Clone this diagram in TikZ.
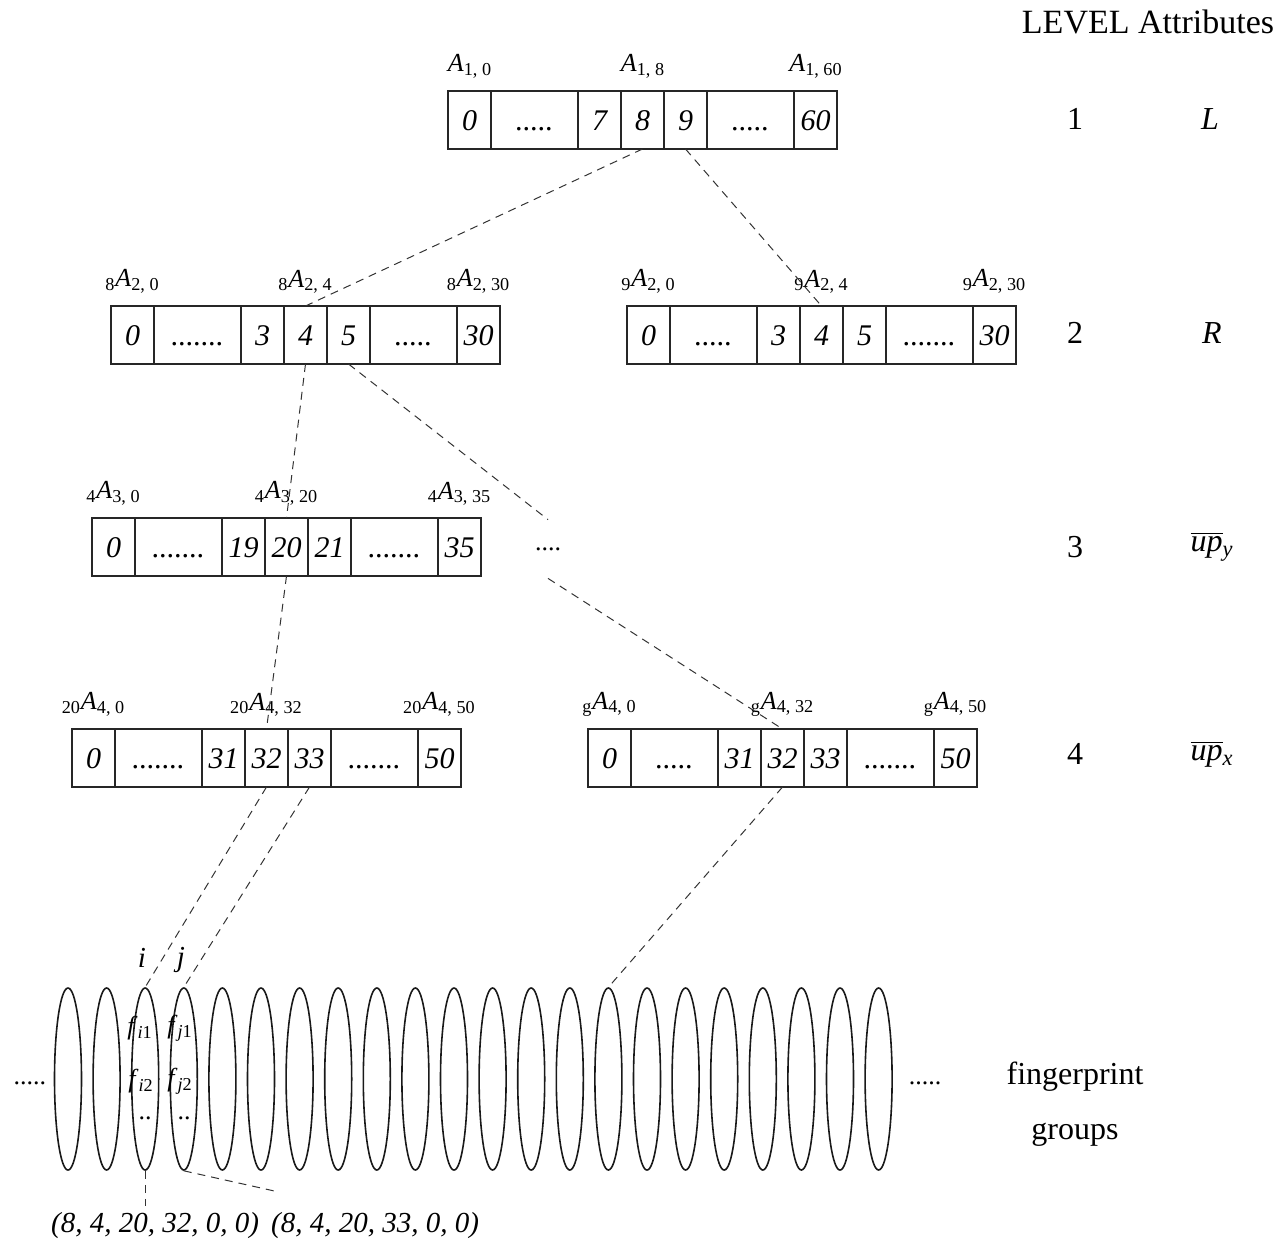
\documentclass[tikz,border=0pt]{standalone}
\usepackage{fontspec}
\setmainfont{Liberation Serif}
\usetikzlibrary{shapes.geometric, positioning}
\tikzset{
  cellbox/.style = {rectangle, draw=black!85, line width=0.6pt, minimum height=29pt,
                    inner sep=0pt, outer sep=0pt, text height=10pt, text depth=0pt,
                    font=\fontsize{15}{17}\selectfont\itshape},
  alab/.style    = {font=\fontsize{13}{15}\selectfont, inner sep=1pt},
  fgroup/.style  = {ellipse, draw=black!90, line width=0.8pt, minimum width=13.5pt,
                    minimum height=91pt, inner sep=0pt},
  link/.style    = {draw=black!80, dash pattern=on 4pt off 3pt, line width=0.5pt},
  coltxt/.style  = {font=\fontsize{16}{18}\selectfont},
  tuple/.style   = {font=\fontsize{14.5}{17}\selectfont\itshape},
  flab/.style    = {font=\fontsize{13}{15}\selectfont, inner sep=0pt},
  dotlab/.style  = {font=\fontsize{13}{15}\selectfont, inner sep=0pt, minimum height=29pt},
}
\newcommand{\Alab}[3]{\textsubscript{#1}\textit{A}\textsubscript{#2, #3}}
\newcommand{\dshort}{.....}
\newcommand{\dlong}{.......}
\newcommand{\cellrow}[4]{% name, left x, centre y, list of width/text
  \foreach \w/\txt [count=\i, remember=\i as \j (initially 0)] in {#4} {
    \ifnum\i=1\relax
      \node[cellbox, minimum width=\w, anchor=west] (#1-\i) at (#2,#3) {\txt};
    \else
      \node[cellbox, minimum width=\w, anchor=west] (#1-\i) at (#1-\j.east) {\txt};
    \fi
  }
}

\begin{document}
\begin{tikzpicture}[x=0.5pt, y=-0.5pt]
  \useasboundingbox (0,0) rectangle (1283,1242);

  % level 1
  \cellrow{l1}{448}{120}{21.5pt/0, 43.5pt/\dshort, 21.5pt/7, 21.5pt/8, 21.5pt/9, 43.5pt/\dshort, 21.5pt/60}
  \node[alab, above=5pt of l1-1] (a10)  {\Alab{}{1}{0}};
  \node[alab, above=5pt of l1-4] (a18)  {\Alab{}{1}{8}};
  \node[alab, above=5pt of l1-7] (a160) {\Alab{}{1}{60}};

  % level 2
  \cellrow{l2a}{111}{335}{21.5pt/0, 43.5pt/\dlong, 21.5pt/3, 21.5pt/4, 21.5pt/5, 43.5pt/\dshort, 21.5pt/30}
  \node[alab, above=5pt of l2a-1] (a820)  {\Alab{8}{2}{0}};
  \node[alab, above=5pt of l2a-4] (a824)  {\Alab{8}{2}{4}};
  \node[alab, above=5pt of l2a-7] (a8230) {\Alab{8}{2}{30}};
  \cellrow{l2b}{627}{335}{21.5pt/0, 43.5pt/\dshort, 21.5pt/3, 21.5pt/4, 21.5pt/5, 43.5pt/\dlong, 21.5pt/30}
  \node[alab, above=5pt of l2b-1] (a920)  {\Alab{9}{2}{0}};
  \node[alab, above=5pt of l2b-4] (a924)  {\Alab{9}{2}{4}};
  \node[alab, above=5pt of l2b-7] (a9230) {\Alab{9}{2}{30}};

  % level 3
  \cellrow{l3}{92}{547}{21.5pt/0, 43.5pt/\dlong, 21.5pt/19, 21.5pt/20, 21.5pt/21, 43.5pt/\dlong, 21.5pt/35}
  \node[alab, above=5pt of l3-1] (a430)  {\Alab{4}{3}{0}};
  \node[alab, above=5pt of l3-4] (a4320) {\Alab{4}{3}{20}};
  \node[alab, above=5pt of l3-7] (a4335) {\Alab{4}{3}{35}};
  \node[dotlab] (l3dots) at (548,549) {....};

  % level 4
  \cellrow{l4a}{72}{758}{21.5pt/0, 43.5pt/\dlong, 21.5pt/31, 21.5pt/32, 21.5pt/33, 43.5pt/\dlong, 21.5pt/50}
  \node[alab, above=5pt of l4a-1] (a2040)  {\Alab{20}{4}{0}};
  \node[alab, above=5pt of l4a-4] (a20432) {\Alab{20}{4}{32}};
  \node[alab, above=5pt of l4a-7] (a20450) {\Alab{20}{4}{50}};
  \cellrow{l4b}{588}{758}{21.5pt/0, 43.5pt/\dshort, 21.5pt/31, 21.5pt/32, 21.5pt/33, 43.5pt/\dlong, 21.5pt/50}
  \node[alab, above=5pt of l4b-1] (ag40)  {\Alab{g}{4}{0}};
  \node[alab, above=5pt of l4b-4] (ag432) {\Alab{g}{4}{32}};
  \node[alab, above=5pt of l4b-7] (ag450) {\Alab{g}{4}{50}};

  % fingerprint groups
  \foreach \k in {1,...,22}
    \node[fgroup] (g\k) at ({68+38.6*(\k-1)},1079) {};
  \node[dotlab] (ldots) at (30,1083) {.....};
  \node[dotlab] (rdots) at (925,1083) {.....};
  \node[tuple] (lbi) at (142,958) {i};
  \node[tuple] (lbj) at (181,960) {j};
  \node[flab] (fi1) at (140,1028) {\textit{f}\textsubscript{\textit{i}1}};
  \node[flab] (fi2) at (141,1081) {\textit{f}\textsubscript{\textit{i}2}};
  \node[flab] (fi3) at (145,1118) {..};
  \node[flab] (fj1) at (180,1028) {\textit{f}\textsubscript{\textit{j}1}};
  \node[flab] (fj2) at (180,1081) {\textit{f}\textsubscript{\textit{j}2}};
  \node[flab] (fj3) at (184,1118) {..};
  \node[tuple] (tupi) at (155,1226) {(8, 4, 20, 32, 0, 0)};
  \node[tuple] (tupj) at (375,1226) {(8, 4, 20, 33, 0, 0)};

  % right-hand column
  \node[coltxt, font=\fontsize{17}{19}\selectfont] (hdr) at (1148,22) {LEVEL Attributes};
  \foreach \lv/\yy in {1/119, 2/333, 3/547, 4/754}
    \node[coltxt] (lv\lv) at (1075,\yy) {\lv};
  \node[coltxt] (at1) at (1210,119) {\textit{L}};
  \node[coltxt] (at2) at (1212,333) {\textit{R}};
  \node[coltxt] (at3) at (1212,547) {$\overline{\mbox{\itshape up}}$\textsubscript{\itshape y}};
  \node[coltxt] (at4) at (1212,754) {$\overline{\mbox{\itshape up}}$\textsubscript{\itshape x}};
  \node[coltxt, font=\fontsize{16}{27.5}\selectfont, align=center] (fpg) at (1075,1104)
    {fingerprint\\groups};

  % links
  \draw[link] (l1-4.south) -- (l2a-4.north);
  \draw[link] (l1-5.south) -- (l2b-4.north);
  \draw[link] (l2a-4.south) -- (l3-4.north);
  \draw[link] (l2a-5.south) -- (l3dots.north);
  \draw[link] (l3dots.south) -- (l4b-4.north);
  \draw[link] (l3-4.south) -- (l4a-4.north);
  \draw[link] (l4a-4.south) -- (g3.north);
  \draw[link] (l4a-5.south) -- (g4.north);
  \draw[link] (l4b-4.south) -- (g15.north);
  \draw[link] (g3.south) -- (g3.south |- tupi.north);
  \draw[link] (g4.south) -- ([xshift=7pt, yshift=7pt]tupj.north west);
\end{tikzpicture}
\end{document}
